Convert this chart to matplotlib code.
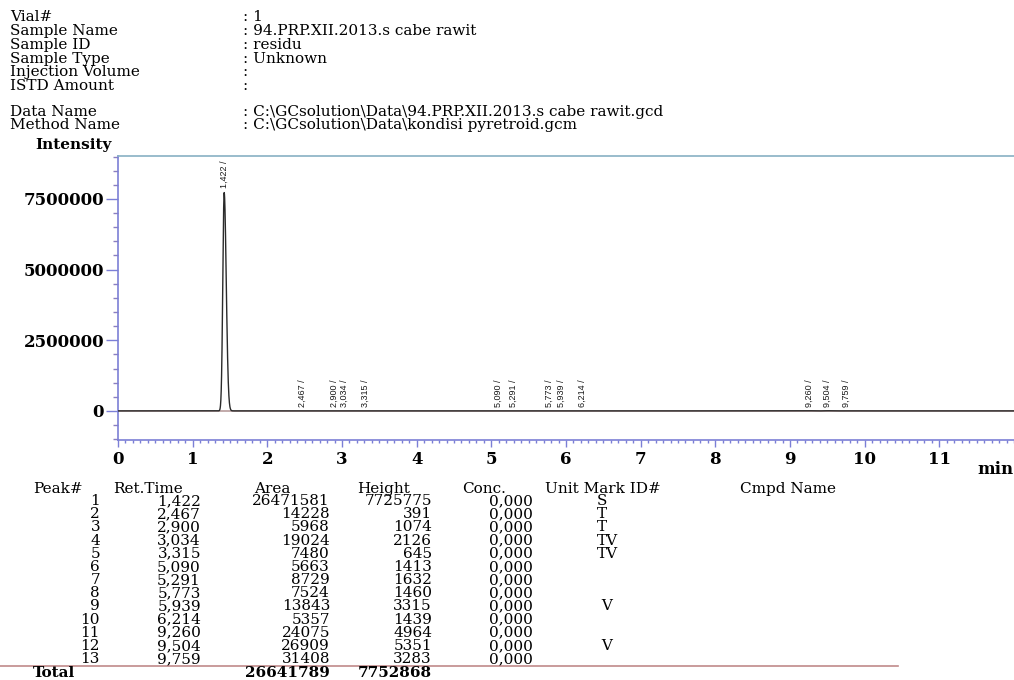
import numpy as np
import matplotlib.pyplot as plt
from matplotlib.ticker import MultipleLocator, FuncFormatter

plt.rcParams['font.family'] = ['DejaVu Serif']

# run header
info_keys = ['Vial#', 'Sample Name', 'Sample ID', 'Sample Type', 'Injection Volume', 'ISTD Amount',
             'Data Name', 'Method Name']
info_vals = ['1', '94.PRP.XII.2013.s cabe rawit', 'residu', 'Unknown', '', '',
             'C:\\GCsolution\\Data\\94.PRP.XII.2013.s cabe rawit.gcd',
             'C:\\GCsolution\\Data\\kondisi pyretroid.gcm']
info_rows = [17, 31, 45, 59, 72, 86, 112, 125]

# peak table
peak_no = [1, 2, 3, 4, 5, 6, 7, 8, 9, 10, 11, 12, 13]
ret_time = [1.422, 2.467, 2.900, 3.034, 3.315, 5.090, 5.291, 5.773, 5.939, 6.214, 9.260, 9.504, 9.759]
area = [26471581, 14228, 5968, 19024, 7480, 5663, 8729, 7524, 13843, 5357, 24075, 26909, 31408]
height = [7725775, 391, 1074, 2126, 645, 1413, 1632, 1460, 3315, 1439, 4964, 5351, 3283]
conc = [0.0] * 13
mark = ['S', 'T', 'T', 'TV', 'TV', '', '', '', ' V', '', '', ' V', '']

W, H = 1014, 680
FS = 11
fig = plt.figure(figsize=(W / 100, H / 100), dpi=100)


def fx(x):
    return x / W


def fy(y):
    return 1 - y / H


def comma(v):
    return f'{v:.3f}'.replace('.', ',')


for k, v, y in zip(info_keys, info_vals, info_rows):
    fig.text(fx(10), fy(y), k, fontsize=FS, va='center')
    fig.text(fx(243), fy(y), ': ' + v, fontsize=FS, va='center')

# chromatogram axes
ax = fig.add_axes([fx(118), fy(440), 1 - fx(118), fy(156) - fy(440)])
ax.set_xlim(0, 12)
ax.set_ylim(-1.03e6, 9.02e6)

# rebuild the trace from the table: asymmetric gaussians, sigma from area/height (area in uV*s)
t = np.linspace(0, 12, 12000)
sig = np.zeros_like(t)
for rt, a, h in zip(ret_time, area, height):
    s = a / h / np.sqrt(2 * np.pi) / 60.0
    sl, sr = 0.8 * s, 1.2 * s
    w = np.where(t < rt, sl, sr)
    sig += h * np.exp(-0.5 * ((t - rt) / w) ** 2)

ax.plot(t, sig, color='#2a2a2a', lw=1.0, zorder=3)
ax.axhline(0, color='#b89c9c', lw=1.2, zorder=2)

for rt, h in zip(ret_time, height):
    ax.annotate(comma(rt) + ' /', (rt, h), xytext=(0, 3), textcoords='offset points',
                rotation=90, ha='center', va='bottom', fontsize=6.5,
                family=['Liberation Sans Narrow', 'Liberation Sans'], color='#1a1a1a')

ax.spines['right'].set_visible(False)
ax.spines['left'].set_color('#7b7fd6')
ax.spines['bottom'].set_color('#7b7fd6')
ax.spines['top'].set_color('#88b0c4')
for sp in ax.spines.values():
    sp.set_linewidth(1.2)

ax.set_xticks(range(12))
ax.xaxis.set_minor_locator(MultipleLocator(0.1))
ax.set_yticks([0, 2500000, 5000000, 7500000])
ax.yaxis.set_minor_locator(MultipleLocator(500000))
ax.yaxis.set_major_formatter(FuncFormatter(lambda v, p: f'{v:.0f}'))
ax.tick_params(axis='y', which='major', length=9, width=1, pad=1, color='#7b7fd6')
ax.tick_params(axis='y', which='minor', length=3.5, width=1, color='#8a7fc0')
ax.tick_params(axis='x', which='major', length=5, width=1, pad=3, color='#7b7fd6')
ax.tick_params(axis='x', which='minor', length=2.2, width=1, color='#7b7fd6')
for lab in ax.get_xticklabels() + ax.get_yticklabels():
    lab.set_fontweight('bold')
    lab.set_fontsize(12)

fig.text(fx(35), fy(145), 'Intensity', fontsize=11, fontweight='bold', va='center')
fig.text(fx(1013), fy(470), 'min', fontsize=12, fontweight='bold', va='center', ha='right')

# result table
head_y = 489
fig.text(fx(33), fy(head_y), 'Peak#', fontsize=FS, va='center')
fig.text(fx(113), fy(head_y), 'Ret.Time', fontsize=FS, va='center')
fig.text(fx(254), fy(head_y), 'Area', fontsize=FS, va='center')
fig.text(fx(357), fy(head_y), 'Height', fontsize=FS, va='center')
fig.text(fx(462), fy(head_y), 'Conc.', fontsize=FS, va='center')
fig.text(fx(545), fy(head_y), 'Unit Mark ID#', fontsize=FS, va='center')
fig.text(fx(740), fy(head_y), 'Cmpd Name', fontsize=FS, va='center')

for i in range(len(peak_no)):
    y = fy(501 + 13.17 * i)
    fig.text(fx(100), y, str(peak_no[i]), fontsize=FS, va='center', ha='right')
    fig.text(fx(201), y, comma(ret_time[i]), fontsize=FS, va='center', ha='right')
    fig.text(fx(330), y, str(area[i]), fontsize=FS, va='center', ha='right')
    fig.text(fx(432), y, str(height[i]), fontsize=FS, va='center', ha='right')
    fig.text(fx(533), y, comma(conc[i]), fontsize=FS, va='center', ha='right')
    if mark[i]:
        fig.text(fx(597), y, mark[i], fontsize=FS, va='center', ha='left')

fig.add_artist(plt.Line2D([0, fx(898)], [fy(666), fy(666)], color='#c08a8a', lw=1.2))
fig.text(fx(33), fy(673), 'Total', fontsize=FS, va='center', fontweight='bold')
fig.text(fx(330), fy(673), str(sum(area)), fontsize=FS, va='center', ha='right', fontweight='bold')
fig.text(fx(432), fy(673), str(sum(height)), fontsize=FS, va='center', ha='right', fontweight='bold')

fig.savefig('out.png', dpi=100)
